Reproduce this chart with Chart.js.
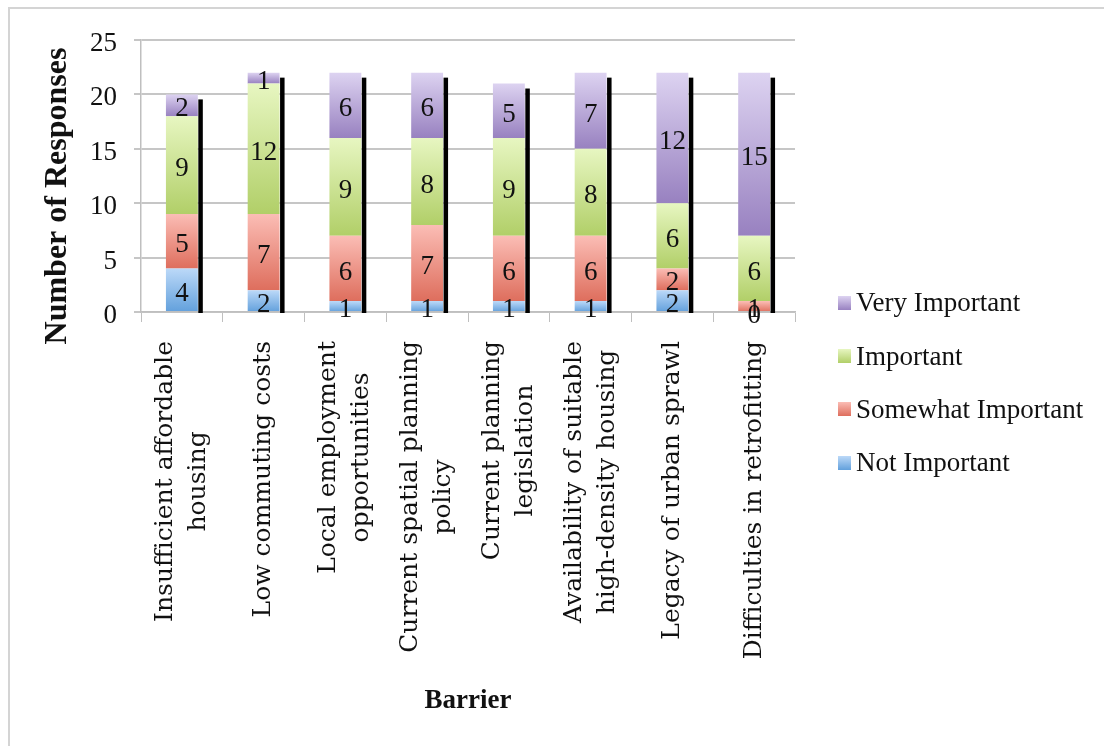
<!DOCTYPE html>
<html>
<head>
<meta charset="utf-8">
<title>Barriers - Number of Responses</title>
<script src="https://cdn.jsdelivr.net/npm/chart.js@4.4.1/dist/chart.umd.min.js"></script>
<style>
  html, body {
    margin: 0;
    padding: 0;
    background: #ffffff;
  }
  #page {
    position: relative;
    width: 1104px;
    height: 746px;
    overflow: hidden;
  }
  #frame {
    position: absolute;
    left: 8px;
    top: 7px;
    width: 1200px;
    height: 800px;
    border-left: 2px solid #d4d4d4;
    border-top: 2px solid #d4d4d4;
  }
  #chart-box {
    position: absolute;
    left: 0;
    top: 0;
    width: 1104px;
    height: 746px;
  }
  #legend {
    position: absolute;
    left: 838px;
    top: 276px;
    font-family: "Liberation Serif", "Times New Roman", serif;
    font-size: 27px;
    color: #111111;
  }
  .legend-row {
    display: flex;
    align-items: center;
    height: 53.4px;
    white-space: nowrap;
  }
  .legend-swatch {
    width: 13px;
    height: 14px;
    margin-right: 5px;
  }
</style>
</head>
<body>
<div id="page">
  <div id="frame"></div>
  <div id="chart-box"><canvas id="barrier-chart"></canvas></div>
  <div id="legend"></div>
</div>

<script>
  // categories (wrapped the way they sit under the axis)
  const barriers = [
    ["Insufficient affordable", "housing"],
    ["Low commuting costs"],
    ["Local employment", "opportunities"],
    ["Current spatial planning", "policy"],
    ["Current planning", "legislation"],
    ["Availability of suitable", "high-density housing"],
    ["Legacy of urban sprawl"],
    ["Difficulties in retrofitting"]
  ];

  // responses per barrier, bottom of the stack first
  const notImportant = [4, 2, 1, 1, 1, 1, 2, 0];
  const somewhatImportant = [5, 7, 6, 7, 6, 6, 2, 1];
  const important = [9, 12, 9, 8, 9, 8, 6, 6];
  const veryImportant = [2, 1, 6, 6, 5, 7, 12, 15];

  const seriesNames = ["Not Important", "Somewhat Important", "Important", "Very Important"];
  const responseTicks = [0, 5, 10, 15, 20, 25];

  const seriesData = [notImportant, somewhatImportant, important, veryImportant];

  // [top, bottom] of each segment's gradient
  const seriesColors = [
    ["#bcd9f8", "#62a0dc"],
    ["#fbbdb5", "#de6e5d"],
    ["#e7f6c1", "#b1cf68"],
    ["#ddd3f1", "#9881c0"]
  ];

  const serifFont = "'Liberation Serif', 'Times New Roman', serif";
  const labelFont = "'DejaVu Serif', 'Liberation Serif', serif";

  function stackBase(datasetIndex, index) {
    let sum = 0;
    for (let k = 0; k < datasetIndex; k++) sum += seriesData[k][index];
    return sum;
  }

  function segmentFill(context, pair) {
    const chart = context.chart;
    const yScale = chart.scales.y;
    if (!yScale || context.type !== "data") return pair[1];

    const base = stackBase(context.datasetIndex, context.dataIndex);
    const top = base + seriesData[context.datasetIndex][context.dataIndex];
    const yTop = yScale.getPixelForValue(top);
    const yBottom = yScale.getPixelForValue(base);
    if (!Number.isFinite(yTop) || !Number.isFinite(yBottom) || yTop === yBottom) return pair[1];

    const grad = chart.ctx.createLinearGradient(0, yTop, 0, yBottom);
    grad.addColorStop(0, pair[0]);
    grad.addColorStop(1, pair[1]);
    return grad;
  }

  // black drop shadow beside each stack, plus the count inside every segment
  const barDecor = {
    id: "barDecor",
    afterDatasetsDraw(chart) {
      const ctx = chart.ctx;
      const yScale = chart.scales.y;
      const firstMeta = chart.getDatasetMeta(0);
      const zeroY = yScale.getPixelForValue(0);

      ctx.save();
      ctx.fillStyle = "#000000";
      barriers.forEach((_, i) => {
        const bar = firstMeta.data[i];
        const total = seriesData.reduce((s, d) => s + d[i], 0);
        const top = yScale.getPixelForValue(total) + 5;
        ctx.fillRect(bar.x + bar.width / 2 + 0.5, top, 4.5, zeroY - top + 1);
      });

      ctx.font = "27px " + serifFont;
      ctx.fillStyle = "#111111";
      ctx.textAlign = "center";
      ctx.textBaseline = "middle";
      seriesData.forEach((data, k) => {
        const meta = chart.getDatasetMeta(k);
        meta.data.forEach((bar, i) => {
          const mid = (bar.y + bar.base) / 2;
          ctx.fillText(String(data[i]), bar.x, mid + 4);
        });
      });
      ctx.restore();
    },
    afterDraw(chart) {
      const ctx = chart.ctx;
      const xScale = chart.scales.x;
      const labelTop = xScale.top + 29;
      const lineHeight = 33;

      ctx.save();
      ctx.fillStyle = "#111111";
      ctx.font = "25px " + labelFont;
      ctx.textAlign = "center";
      ctx.textBaseline = "middle";
      barriers.forEach((lines, i) => {
        const widest = Math.max(...lines.map(l => ctx.measureText(l).width));
        ctx.save();
        ctx.translate(xScale.getPixelForValue(i), labelTop + widest / 2);
        ctx.rotate(-Math.PI / 2);
        lines.forEach((line, j) => {
          ctx.fillText(line, 0, (j - (lines.length - 1) / 2) * lineHeight);
        });
        ctx.restore();
      });

      // y axis title
      ctx.font = "bold 32px " + serifFont;
      ctx.translate(58, 196);
      ctx.rotate(-Math.PI / 2);
      ctx.fillText("Number of Responses", 0, 0);
      ctx.restore();
    }
  };

  function buildLegend() {
    const legend = document.getElementById("legend");
    for (let k = seriesNames.length - 1; k >= 0; k--) {
      const row = document.createElement("div");
      row.className = "legend-row";

      const swatch = document.createElement("span");
      swatch.className = "legend-swatch";
      swatch.style.background = "linear-gradient(" + seriesColors[k][0] + ", " + seriesColors[k][1] + ")";

      const text = document.createElement("span");
      text.textContent = seriesNames[k];

      row.appendChild(swatch);
      row.appendChild(text);
      legend.appendChild(row);
    }
  }

  function buildChart() {
    const canvas = document.getElementById("barrier-chart");

    new Chart(canvas, {
      type: "bar",
      data: {
        labels: barriers,
        datasets: seriesNames.map((name, k) => ({
          label: name,
          data: seriesData[k],
          backgroundColor: ctx => segmentFill(ctx, seriesColors[k]),
          borderWidth: 0,
          barPercentage: 0.39,
          categoryPercentage: 1.0
        }))
      },
      options: {
        responsive: true,
        maintainAspectRatio: false,
        animation: false,
        layout: {
          padding: { top: 40, left: 8, right: 309, bottom: 20 }
        },
        plugins: {
          legend: { display: false },
          tooltip: { enabled: false }
        },
        scales: {
          x: {
            stacked: true,
            grid: {
              offset: true,
              drawOnChartArea: false,
              drawTicks: true,
              tickLength: 10,
              color: "#bfbfbf"
            },
            border: { color: "#bfbfbf", width: 1.5 },
            ticks: { display: false },
            title: {
              display: true,
              text: "Barrier",
              color: "#111111",
              font: { family: serifFont, size: 27, weight: "bold" },
              padding: { top: 0, bottom: 9 }
            },
            afterFit(scale) {
              scale.height = 414;
              scale.paddingLeft = 0;
              scale.paddingRight = 0;
            }
          },
          y: {
            stacked: true,
            min: 0,
            max: 25,
            afterBuildTicks(scale) {
              scale.ticks = responseTicks.map(v => ({ value: v }));
            },
            grid: {
              color: "#c6c6c6",
              lineWidth: 2,
              drawTicks: true,
              tickLength: 7
            },
            border: { color: "#bfbfbf", width: 1.5 },
            ticks: {
              color: "#111111",
              font: { family: serifFont, size: 27 },
              padding: 17,
              labelOffset: 4
            },
            afterFit(scale) {
              scale.width = 133;
              scale.paddingTop = 0;
              scale.paddingBottom = 0;
            }
          }
        }
      },
      plugins: [barDecor]
    });
  }

  buildLegend();
  buildChart();
</script>
</body>
</html>
